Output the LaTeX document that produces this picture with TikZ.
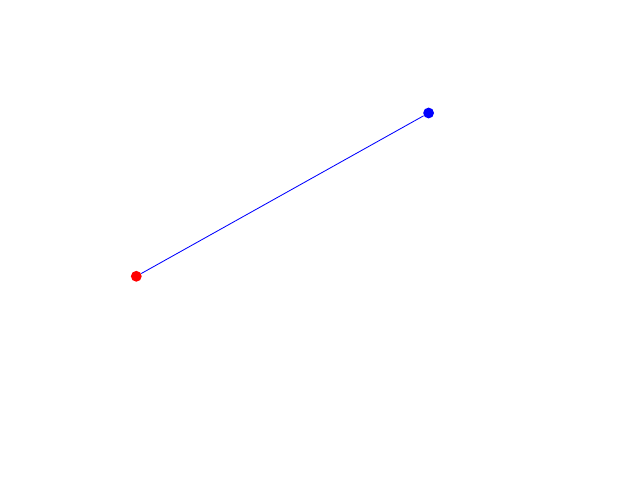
\documentclass[tikz,border=0pt]{standalone}
\usepackage{xcolor}
\usepackage{tikz}
\tikzset{
    dotnode/.style = {circle, inner sep=0pt, minimum size=0.27cm},
    segment/.style = {-, blue, line width=0.6pt},
}
\begin{document}
\begin{tikzpicture}[x=0.025cm, y=0.025cm]
\useasboundingbox (0,0) rectangle (640,480);
\node[dotnode, fill=red] at (136.3,203.7) (p) {};
\node[dotnode, fill=blue] at (428.6,367.0) (q) {};
%
\draw[segment] (p) -- (q);
\end{tikzpicture}
\end{document}
